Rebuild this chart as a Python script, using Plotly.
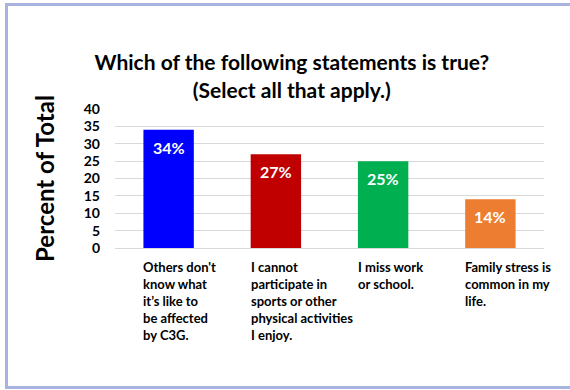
import plotly.graph_objects as go

categories = [
    "Others don't<br>know what<br>it\u2019s like to<br>be affected<br>by C3G.",
    "I cannot<br>participate in<br>sports or other<br>physical activities<br>I enjoy.",
    "I miss work<br>or school.",
    "Family stress is<br>common in my<br>life.",
]
values = [34, 27, 25, 14]
colors = ["#0000FF", "#C00000", "#00B050", "#ED7D31"]
yticks = [0, 5, 10, 15, 20, 25, 30, 35, 40]

FONT = "Lato, 'Open Sans', sans-serif"
BW = 0.47
xs = list(range(len(values)))

fig = go.Figure()
fig.add_trace(go.Bar(x=xs, y=values, marker=dict(color=colors, line=dict(width=0)),
                     width=BW, hoverinfo="skip"))

ann = []
for i, v in enumerate(values):
    ann.append(dict(x=i, y=v, xref="x", yref="y", text=f"<b>{v}%</b>", showarrow=False,
                    yanchor="top", yshift=-6, font=dict(family=FONT, size=16, color="white")))
    ann.append(dict(x=i - BW / 2, y=0, xref="x", yref="y", text=f"<b>{categories[i]}</b>",
                    showarrow=False, xanchor="left", yanchor="top", align="left", yshift=-9,
                    xshift=-2, font=dict(family=FONT, size=13, color="black")))

fig.update_layout(
    width=570, height=390,
    margin=dict(l=115, r=26, t=109, b=142, autoexpand=False),
    paper_bgcolor="white", plot_bgcolor="white",
    showlegend=False,
    title=dict(text="<b>Which of the following statements is true?<br>(Select all that apply.)</b>",
               x=0.512, xanchor="center", y=0.82, yanchor="middle",
               font=dict(family=FONT, size=21, color="black")),
    xaxis=dict(range=[-0.5, 3.5], showticklabels=False, showgrid=False, zeroline=False,
               showline=False, fixedrange=True, automargin=False),
    yaxis=dict(range=[0, 40], tickvals=yticks, showgrid=True, gridcolor="#D9D9D9", gridwidth=1,
               zeroline=True, zerolinecolor="#D9D9D9", zerolinewidth=1, showline=False,
               automargin=False, fixedrange=True,
               tickfont=dict(family=FONT, size=14, color="black", weight="bold"), ticklabelstandoff=14,
               title=dict(text="<b>Percent of Total</b>", font=dict(family=FONT, size=24, color="black"),
                          standoff=22)),
    annotations=ann,
    shapes=[dict(type="rect", xref="paper", yref="paper",
                 x0=(6.5 - 115) / 429, x1=(574 - 115) / 429,
                 y0=1 + (109 - 387.5) / 139, y1=1 + (109 - 4.5) / 139,
                 line=dict(color="#A9B3E0", width=3), fillcolor="rgba(0,0,0,0)", layer="below")],
)
fig.write_html("out.html", config={"displayModeBar": False},
               post_script="document.body.style.margin='0';document.body.style.overflow='hidden';")
